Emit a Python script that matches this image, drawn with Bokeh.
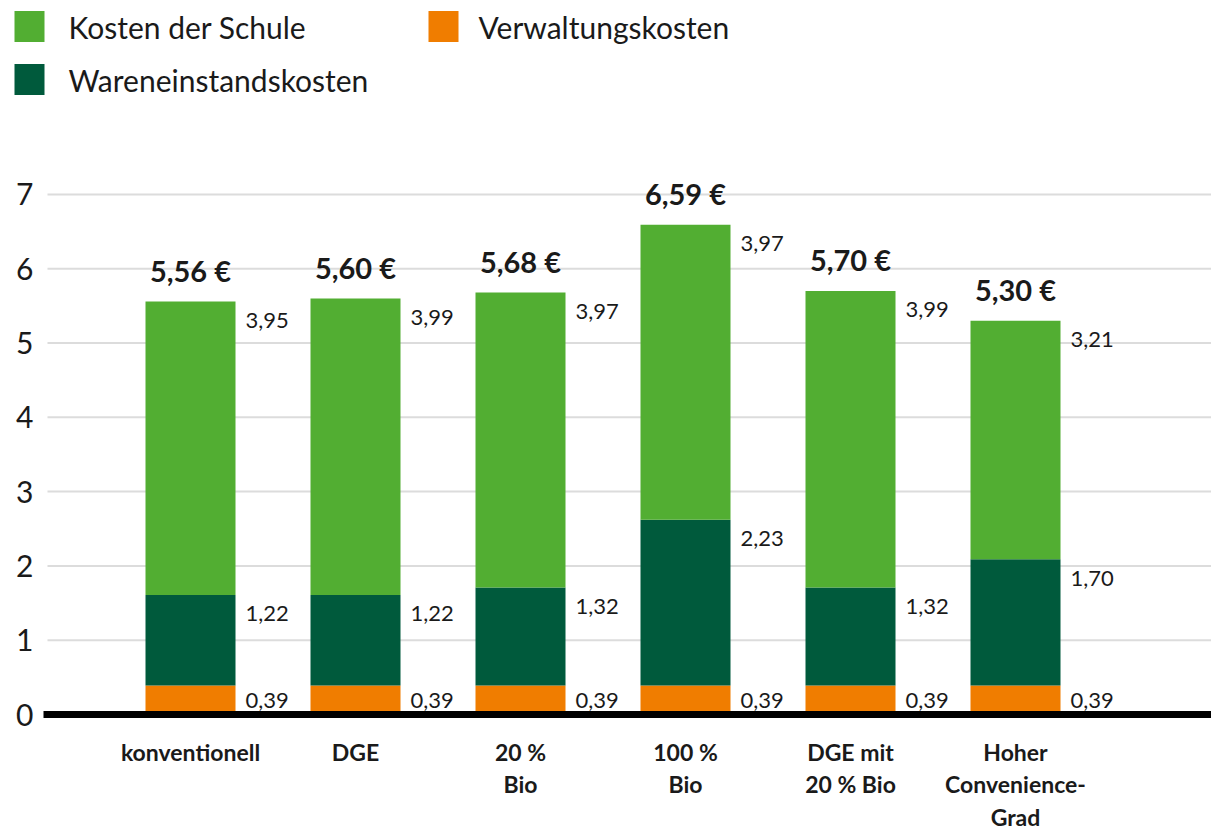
from bokeh.plotting import figure
from bokeh.models import Range1d, ColumnDataSource
from bokeh.core.properties import value
from bokeh.embed import file_html
from bokeh.resources import INLINE

# ---------------- data ----------------
categories = ["konventionell", "DGE", "20 %\nBio", "100 %\nBio",
              "DGE mit\n20 % Bio", "Hoher\nConvenience-\nGrad"]
verwaltung = [0.39, 0.39, 0.39, 0.39, 0.39, 0.39]
wareneinstand = [1.22, 1.22, 1.32, 2.23, 1.32, 1.70]
schule = [3.95, 3.99, 3.97, 3.97, 3.99, 3.21]
totals = [5.56, 5.60, 5.68, 6.59, 5.70, 5.30]
y_ticks = [0, 1, 2, 3, 4, 5, 6, 7]
series_names = ["Kosten der Schule", "Verwaltungskosten", "Wareneinstandskosten"]

# ---------------- style ----------------
C_SCHULE = "#52ae32"
C_WARE = "#005a3c"
C_VERW = "#f07d00"
C_GRID = "#dcdcdc"
C_TEXT = "#1a1a1a"
FONT = value("Lato")

W, H = 1211, 832
X0, PXX = 190, 165      # pixel of first category, px per category
Y0, PXY = 714, 74.3     # pixel of value 0, px per unit


def fx(X):
    return (X - X0) / PXX


def fy(Y):
    return (Y0 - Y) / PXY


p = figure(width=W, height=H, output_backend="svg", toolbar_location=None,
           x_axis_type=None, y_axis_type=None,
           x_range=Range1d(fx(0), fx(W)),
           y_range=Range1d(fy(H), fy(0)),
           min_border=0, outline_line_color=None,
           background_fill_color="white", border_fill_color="white")
p.xgrid.visible = False
p.ygrid.visible = False

n = len(categories)
xs = list(range(n))
top1 = [v for v in verwaltung]
top2 = [a + b for a, b in zip(verwaltung, wareneinstand)]
top3 = [a + b + c for a, b, c in zip(verwaltung, wareneinstand, schule)]

# gridlines
gt = y_ticks[1:]
p.segment(x0=[fx(47)] * len(gt), x1=[fx(W)] * len(gt), y0=gt, y1=gt,
          line_color=C_GRID, line_width=2)

# bars
bw = 90 / PXX
src = ColumnDataSource(dict(x=xs, b0=[0] * n, t1=top1, t2=top2, t3=top3))
p.vbar(x="x", bottom="b0", top="t1", width=bw, source=src,
       fill_color=C_VERW, line_color=None)
p.vbar(x="x", bottom="t1", top="t2", width=bw, source=src,
       fill_color=C_WARE, line_color=None)
p.vbar(x="x", bottom="t2", top="t3", width=bw, source=src,
       fill_color=C_SCHULE, line_color=None)

# baseline
p.segment(x0=[fx(43)], x1=[fx(W)], y0=[y_ticks[0]], y1=[y_ticks[0]],
          line_color="black", line_width=7)

# y tick labels
p.text(x=[fx(33)] * len(y_ticks), y=y_ticks, text=[str(t) for t in y_ticks],
       text_align="right", text_baseline="middle", text_font=FONT,
       text_font_size="30px", text_color=C_TEXT)


def fmt(v):
    return f"{v:.2f}".replace(".", ",")


# segment labels
lx, ly, lt = [], [], []
for i in range(n):
    bottoms = [0, top1[i], top2[i]]
    tops = [top1[i], top2[i], top3[i]]
    vals = [verwaltung[i], wareneinstand[i], schule[i]]
    for b, t, v in zip(bottoms, tops, vals):
        seg_px = (t - b) * PXY
        off = min(19, seg_px / 2)
        lx.append(i + (45 + 10) / PXX)
        ly.append(t - off / PXY)
        lt.append(fmt(v))
p.text(x=lx, y=ly, text=lt, text_align="left", text_baseline="middle",
       text_font=FONT, text_font_size="22px", text_color=C_TEXT)

# totals
p.text(x=xs, y=[t + 31 / PXY for t in totals],
       text=[fmt(t) + " €" for t in totals],
       text_align="center", text_baseline="alphabetic", text_font=FONT,
       text_font_size="29px", text_font_style="bold", text_color=C_TEXT)

# category labels
p.text(x=xs, y=[fy(737)] * n, text=categories, text_align="center",
       text_baseline="top", text_font=FONT, text_font_size="23px",
       text_font_style="bold", text_color=C_TEXT, text_line_height=1.17)

# legend (manual)
leg_colors = [C_SCHULE, C_VERW, C_WARE]
sq_x = [fx(29), fx(443), fx(29)]
sq_y = [fy(26), fy(26), fy(79)]
p.rect(x=sq_x, y=sq_y, width=30, height=31, width_units="screen",
       height_units="screen", fill_color=leg_colors, line_color=None)
p.text(x=[fx(68), fx(478), fx(68)], y=sq_y, text=series_names,
       text_align="left", text_baseline="middle", text_font=FONT,
       text_font_size="30px", text_color=C_TEXT)

open("out.html", "w").write(file_html(p, INLINE))
